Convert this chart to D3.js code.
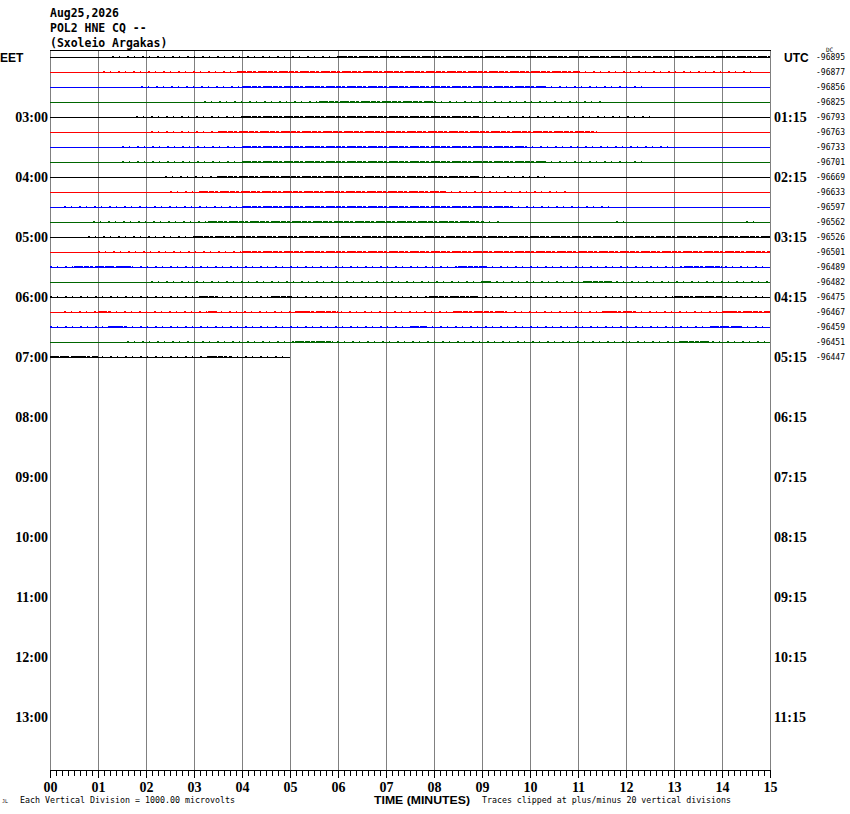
<!DOCTYPE html>
<html>
<head>
<meta charset="utf-8">
<script src="https://cdn.jsdelivr.net/npm/d3@7"></script>
<style>
  body { margin: 0; background: #fff; }
  svg { display: block; }
</style>
</head>
<body>
<svg id="heli" width="850" height="814"></svg>
<script>
// station header
const titleLines = ["Aug25,2026", "POL2 HNE CQ --", "(Sxoleio Argakas)"];

// trace colours cycle every 4 rows
const rowColors = ["#000000", "#ff0000", "#0000ff", "#006600"];

// DC offset shown at the right of every drawn row
const dcValues = [-96895, -96877, -96856, -96825, -96793, -96763, -96733, -96701,
  -96669, -96633, -96597, -96562, -96526, -96501, -96489, -96482,
  -96475, -96467, -96459, -96451, -96447];

// last row stops here (minutes)
const lastRowEnd = 5;

// hour labels, one every 4 rows
const eetLabels = ["EET", "03:00", "04:00", "05:00", "06:00", "07:00", "08:00",
  "09:00", "10:00", "11:00", "12:00", "13:00"];
const utcLabels = ["UTC", "01:15", "02:15", "03:15", "04:15", "05:15", "06:15",
  "07:15", "08:15", "09:15", "10:15", "11:15"];

const minuteTicks = d3.range(0, 16);

// stretches of small noise on each trace, [from, to] in minutes
const sparseNoise = [
  [[1.3, 6]],
  [[1.1, 3.9], [11, 14.7]],
  [[1.9, 4], [10.3, 12.4]],
  [[3.2, 5.6], [8, 11.5]],
  [[1.8, 4], [8.9, 12.6]],
  [[2.1, 3.5]],
  [[1.5, 4], [9.9, 12.9]],
  [[1.5, 4], [10.3, 12.4]],
  [[2.4, 3.5], [8.9, 10.4]],
  [[2.5, 3.1], [8.2, 10.8]],
  [[0.3, 4], [9.6, 11.7]],
  [[0.9, 3.3], [9, 9.4], [11.8, 12], [14.5, 14.7]],
  [[0.8, 3]],
  [[1, 4]],
  [[0, 15]],
  [[2.1, 15]],
  [[0, 15]],
  [[0.3, 15]],
  [[0, 15]],
  [[1.6, 15]],
  [[0, 5]]
];
const denseNoise = [
  [[6, 15]],
  [[3.9, 11]],
  [[4, 10.3]],
  [[5.6, 8]],
  [[4, 8.9]],
  [[3.5, 11.4]],
  [[4, 9.9]],
  [[4, 10.3]],
  [[3.5, 8.9]],
  [[3.1, 8.2]],
  [[4, 9.6]],
  [[3.3, 9]],
  [[3, 15]],
  [[4, 15]],
  [[0.5, 1.7], [8.5, 9.1], [13.2, 14]],
  [[9, 9.2], [11.1, 11.7]],
  [[3.1, 3.5], [4.6, 5], [7.9, 8.9], [13, 14]],
  [[1, 1.25], [3.3, 3.5], [5.1, 6], [8.4, 9.5], [11.5, 12.2], [14, 15]],
  [[1.2, 1.6], [7.5, 7.85], [13.75, 14.4]],
  [[5.1, 5.9], [13.1, 13.75]],
  [[0, 1], [3.3, 3.75]]
];

const svg = d3.select("#heli");
const plotLeft = 50, plotRight = 770, plotTop = 50, plotBottom = 770;

const x = d3.scaleLinear().domain([0, 15]).range([plotLeft, plotRight]);
const y = d3.scaleLinear().domain([0, 47]).range([57, 762]);

const monoFont = "DejaVu Sans Mono, monospace";
const hourFont = "Liberation Serif, serif";
const sansFont = "Liberation Sans, Arial, sans-serif";

// header
svg.append("g")
  .selectAll("text")
  .data(titleLines)
  .enter()
  .append("text")
  .attr("x", 50)
  .attr("y", (d, i) => 17 + i * 15)
  .attr("font-family", monoFont)
  .attr("font-size", 13)
  .attr("font-weight", "bold")
  .attr("textLength", d => d.length * 6.9)
  .attr("lengthAdjust", "spacingAndGlyphs")
  .text(d => d);

// minute grid
svg.append("g")
  .selectAll("line")
  .data(minuteTicks)
  .enter()
  .append("line")
  .attr("x1", d => Math.round(x(d)) + 0.5)
  .attr("x2", d => Math.round(x(d)) + 0.5)
  .attr("y1", plotTop)
  .attr("y2", plotBottom)
  .attr("stroke", "#808080")
  .attr("stroke-width", 1);

// top frame
svg.append("line")
  .attr("x1", plotLeft).attr("x2", plotRight + 1)
  .attr("y1", plotTop + 0.5).attr("y2", plotTop + 0.5)
  .attr("stroke", "#000");

// traces
const traces = svg.append("g").attr("class", "traces").attr("shape-rendering", "crispEdges");
dcValues.forEach((dc, i) => {
  const yy = Math.round(y(i)) + 0.5;
  const color = rowColors[i % 4];
  const end = i === dcValues.length - 1 ? lastRowEnd : 15;
  traces.append("line")
    .attr("x1", x(0)).attr("x2", x(end))
    .attr("y1", yy).attr("y2", yy)
    .attr("stroke", color)
    .attr("stroke-width", 1);

  sparseNoise[i].forEach(([a, b]) => {
    traces.append("line")
      .attr("x1", x(a)).attr("x2", x(b))
      .attr("y1", yy - 1).attr("y2", yy - 1)
      .attr("stroke", color)
      .attr("stroke-width", 1)
      .attr("stroke-dasharray", "2,5,1,7");
  });
  denseNoise[i].forEach(([a, b]) => {
    traces.append("line")
      .attr("x1", x(a)).attr("x2", x(b))
      .attr("y1", yy - 1).attr("y2", yy - 1)
      .attr("stroke", color)
      .attr("stroke-width", 1)
      .attr("stroke-dasharray", "9,1,5,1,3,2");
  });
});

// DC values
svg.append("g")
  .selectAll("text")
  .data(dcValues)
  .enter()
  .append("text")
  .attr("x", 816)
  .attr("y", (d, i) => y(i) + 3)
  .attr("font-family", monoFont)
  .attr("font-size", 8)
  .attr("textLength", 29)
  .attr("lengthAdjust", "spacingAndGlyphs")
  .text(d => d);

svg.append("text")
  .attr("x", 826).attr("y", 52)
  .attr("font-family", monoFont)
  .attr("font-size", 6)
  .text("DC");

// hour labels
svg.append("g")
  .selectAll("text")
  .data(eetLabels)
  .enter()
  .append("text")
  .attr("x", (d, i) => i === 0 ? 0 : 48)
  .attr("y", (d, i) => y(i * 4) + 5)
  .attr("text-anchor", (d, i) => i === 0 ? "start" : "end")
  .attr("font-family", (d, i) => i === 0 ? sansFont : hourFont)
  .attr("font-size", (d, i) => i === 0 ? 12 : 14)
  .attr("font-weight", "bold")
  .text(d => d);

svg.append("g")
  .selectAll("text")
  .data(utcLabels)
  .enter()
  .append("text")
  .attr("x", (d, i) => i === 0 ? 784 : 774)
  .attr("y", (d, i) => y(i * 4) + 5)
  .attr("font-family", (d, i) => i === 0 ? sansFont : hourFont)
  .attr("font-size", (d, i) => i === 0 ? 12 : 14)
  .attr("font-weight", "bold")
  .text(d => d);

// time axis
const minorAxis = d3.axisBottom(x)
  .tickValues(d3.range(0, 120.5).map(d => d / 8))
  .tickSize(6)
  .tickFormat("");
svg.append("g")
  .attr("transform", `translate(0, ${plotBottom})`)
  .attr("shape-rendering", "crispEdges")
  .call(minorAxis)
  .call(g => g.select(".domain").attr("stroke", "#000"));

const majorAxis = d3.axisBottom(x)
  .tickValues(minuteTicks)
  .tickSize(8)
  .tickFormat(d => d3.format("02d")(d));
svg.append("g")
  .attr("transform", `translate(0, ${plotBottom})`)
  .attr("shape-rendering", "crispEdges")
  .call(majorAxis)
  .call(g => g.select(".domain").remove())
  .call(g => g.selectAll("text")
    .attr("y", 22)
    .attr("dy", null)
    .attr("font-family", hourFont)
    .attr("font-size", 14)
    .attr("font-weight", "bold")
    .attr("fill", "#000"));

svg.append("text")
  .attr("x", 374).attr("y", 804)
  .attr("font-family", sansFont)
  .attr("font-size", 11)
  .attr("font-weight", "bold")
  .attr("textLength", 96)
  .attr("lengthAdjust", "spacingAndGlyphs")
  .text("TIME (MINUTES)");

svg.append("text")
  .attr("x", 20).attr("y", 803)
  .attr("font-family", monoFont)
  .attr("font-size", 8)
  .attr("textLength", 215)
  .attr("lengthAdjust", "spacingAndGlyphs")
  .text("Each Vertical Division = 1000.00 microvolts");

svg.append("text")
  .attr("x", 482).attr("y", 803)
  .attr("font-family", monoFont)
  .attr("font-size", 8)
  .attr("textLength", 249)
  .attr("lengthAdjust", "spacingAndGlyphs")
  .text("Traces clipped at plus/minus 20 vertical divisions");

svg.append("text")
  .attr("x", 2).attr("y", 803)
  .attr("font-family", monoFont)
  .attr("font-size", 5)
  .text("JL");
</script>
</body>
</html>
